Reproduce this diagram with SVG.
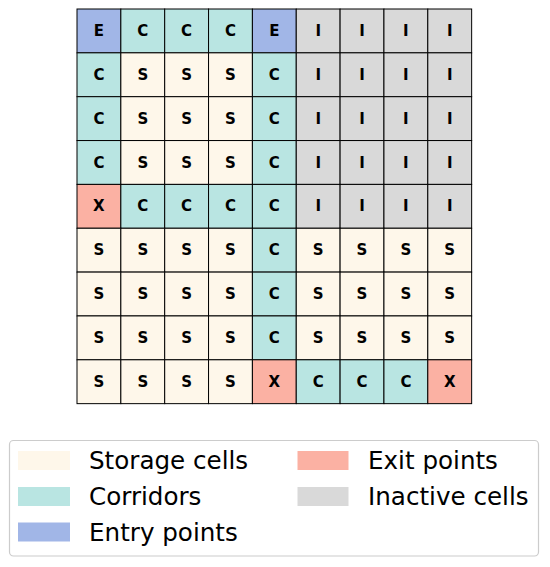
<svg xmlns="http://www.w3.org/2000/svg" width="550" height="567" viewBox="0 0 550 567">
<style>
.c rect{stroke:#000;stroke-width:1}
.S{fill:#FEF7EA}.C{fill:#B9E5E2}.E{fill:#A1B6E7}.X{fill:#FBB1A3}.I{fill:#D9D9D9}
.t{font-family:"DejaVu Sans",sans-serif;font-weight:bold;font-size:15px;text-anchor:middle;dominant-baseline:central;fill:#000}
.lg{font-family:"DejaVu Sans",sans-serif;font-size:24.6px;fill:#000}
</style>
<rect width="550" height="567" fill="#fff"/>
<g id="grid" class="c">
<g id="r0">
<rect class="E" x="77" y="9" width="43.85" height="43.85"/><text class="t" x="98.9" y="30.9">E</text>
<rect class="C" x="120.85" y="9" width="43.85" height="43.85"/><text class="t" x="142.8" y="30.9">C</text>
<rect class="C" x="164.7" y="9" width="43.85" height="43.85"/><text class="t" x="186.6" y="30.9">C</text>
<rect class="C" x="208.55" y="9" width="43.85" height="43.85"/><text class="t" x="230.5" y="30.9">C</text>
<rect class="E" x="252.4" y="9" width="43.85" height="43.85"/><text class="t" x="274.3" y="30.9">E</text>
<rect class="I" x="296.25" y="9" width="43.85" height="43.85"/><text class="t" x="318.2" y="30.9">I</text>
<rect class="I" x="340.1" y="9" width="43.85" height="43.85"/><text class="t" x="362" y="30.9">I</text>
<rect class="I" x="383.95" y="9" width="43.85" height="43.85"/><text class="t" x="405.9" y="30.9">I</text>
<rect class="I" x="427.8" y="9" width="43.85" height="43.85"/><text class="t" x="449.7" y="30.9">I</text>
</g>
<g id="r1">
<rect class="C" x="77" y="52.85" width="43.85" height="43.85"/><text class="t" x="98.9" y="74.8">C</text>
<rect class="S" x="120.85" y="52.85" width="43.85" height="43.85"/><text class="t" x="142.8" y="74.8">S</text>
<rect class="S" x="164.7" y="52.85" width="43.85" height="43.85"/><text class="t" x="186.6" y="74.8">S</text>
<rect class="S" x="208.55" y="52.85" width="43.85" height="43.85"/><text class="t" x="230.5" y="74.8">S</text>
<rect class="C" x="252.4" y="52.85" width="43.85" height="43.85"/><text class="t" x="274.3" y="74.8">C</text>
<rect class="I" x="296.25" y="52.85" width="43.85" height="43.85"/><text class="t" x="318.2" y="74.8">I</text>
<rect class="I" x="340.1" y="52.85" width="43.85" height="43.85"/><text class="t" x="362" y="74.8">I</text>
<rect class="I" x="383.95" y="52.85" width="43.85" height="43.85"/><text class="t" x="405.9" y="74.8">I</text>
<rect class="I" x="427.8" y="52.85" width="43.85" height="43.85"/><text class="t" x="449.7" y="74.8">I</text>
</g>
<g id="r2">
<rect class="C" x="77" y="96.7" width="43.85" height="43.85"/><text class="t" x="98.9" y="118.6">C</text>
<rect class="S" x="120.85" y="96.7" width="43.85" height="43.85"/><text class="t" x="142.8" y="118.6">S</text>
<rect class="S" x="164.7" y="96.7" width="43.85" height="43.85"/><text class="t" x="186.6" y="118.6">S</text>
<rect class="S" x="208.55" y="96.7" width="43.85" height="43.85"/><text class="t" x="230.5" y="118.6">S</text>
<rect class="C" x="252.4" y="96.7" width="43.85" height="43.85"/><text class="t" x="274.3" y="118.6">C</text>
<rect class="I" x="296.25" y="96.7" width="43.85" height="43.85"/><text class="t" x="318.2" y="118.6">I</text>
<rect class="I" x="340.1" y="96.7" width="43.85" height="43.85"/><text class="t" x="362" y="118.6">I</text>
<rect class="I" x="383.95" y="96.7" width="43.85" height="43.85"/><text class="t" x="405.9" y="118.6">I</text>
<rect class="I" x="427.8" y="96.7" width="43.85" height="43.85"/><text class="t" x="449.7" y="118.6">I</text>
</g>
<g id="r3">
<rect class="C" x="77" y="140.55" width="43.85" height="43.85"/><text class="t" x="98.9" y="162.5">C</text>
<rect class="S" x="120.85" y="140.55" width="43.85" height="43.85"/><text class="t" x="142.8" y="162.5">S</text>
<rect class="S" x="164.7" y="140.55" width="43.85" height="43.85"/><text class="t" x="186.6" y="162.5">S</text>
<rect class="S" x="208.55" y="140.55" width="43.85" height="43.85"/><text class="t" x="230.5" y="162.5">S</text>
<rect class="C" x="252.4" y="140.55" width="43.85" height="43.85"/><text class="t" x="274.3" y="162.5">C</text>
<rect class="I" x="296.25" y="140.55" width="43.85" height="43.85"/><text class="t" x="318.2" y="162.5">I</text>
<rect class="I" x="340.1" y="140.55" width="43.85" height="43.85"/><text class="t" x="362" y="162.5">I</text>
<rect class="I" x="383.95" y="140.55" width="43.85" height="43.85"/><text class="t" x="405.9" y="162.5">I</text>
<rect class="I" x="427.8" y="140.55" width="43.85" height="43.85"/><text class="t" x="449.7" y="162.5">I</text>
</g>
<g id="r4">
<rect class="X" x="77" y="184.4" width="43.85" height="43.85"/><text class="t" x="98.9" y="206.3">X</text>
<rect class="C" x="120.85" y="184.4" width="43.85" height="43.85"/><text class="t" x="142.8" y="206.3">C</text>
<rect class="C" x="164.7" y="184.4" width="43.85" height="43.85"/><text class="t" x="186.6" y="206.3">C</text>
<rect class="C" x="208.55" y="184.4" width="43.85" height="43.85"/><text class="t" x="230.5" y="206.3">C</text>
<rect class="C" x="252.4" y="184.4" width="43.85" height="43.85"/><text class="t" x="274.3" y="206.3">C</text>
<rect class="I" x="296.25" y="184.4" width="43.85" height="43.85"/><text class="t" x="318.2" y="206.3">I</text>
<rect class="I" x="340.1" y="184.4" width="43.85" height="43.85"/><text class="t" x="362" y="206.3">I</text>
<rect class="I" x="383.95" y="184.4" width="43.85" height="43.85"/><text class="t" x="405.9" y="206.3">I</text>
<rect class="I" x="427.8" y="184.4" width="43.85" height="43.85"/><text class="t" x="449.7" y="206.3">I</text>
</g>
<g id="r5">
<rect class="S" x="77" y="228.25" width="43.85" height="43.85"/><text class="t" x="98.9" y="250.2">S</text>
<rect class="S" x="120.85" y="228.25" width="43.85" height="43.85"/><text class="t" x="142.8" y="250.2">S</text>
<rect class="S" x="164.7" y="228.25" width="43.85" height="43.85"/><text class="t" x="186.6" y="250.2">S</text>
<rect class="S" x="208.55" y="228.25" width="43.85" height="43.85"/><text class="t" x="230.5" y="250.2">S</text>
<rect class="C" x="252.4" y="228.25" width="43.85" height="43.85"/><text class="t" x="274.3" y="250.2">C</text>
<rect class="S" x="296.25" y="228.25" width="43.85" height="43.85"/><text class="t" x="318.2" y="250.2">S</text>
<rect class="S" x="340.1" y="228.25" width="43.85" height="43.85"/><text class="t" x="362" y="250.2">S</text>
<rect class="S" x="383.95" y="228.25" width="43.85" height="43.85"/><text class="t" x="405.9" y="250.2">S</text>
<rect class="S" x="427.8" y="228.25" width="43.85" height="43.85"/><text class="t" x="449.7" y="250.2">S</text>
</g>
<g id="r6">
<rect class="S" x="77" y="272.1" width="43.85" height="43.85"/><text class="t" x="98.9" y="294">S</text>
<rect class="S" x="120.85" y="272.1" width="43.85" height="43.85"/><text class="t" x="142.8" y="294">S</text>
<rect class="S" x="164.7" y="272.1" width="43.85" height="43.85"/><text class="t" x="186.6" y="294">S</text>
<rect class="S" x="208.55" y="272.1" width="43.85" height="43.85"/><text class="t" x="230.5" y="294">S</text>
<rect class="C" x="252.4" y="272.1" width="43.85" height="43.85"/><text class="t" x="274.3" y="294">C</text>
<rect class="S" x="296.25" y="272.1" width="43.85" height="43.85"/><text class="t" x="318.2" y="294">S</text>
<rect class="S" x="340.1" y="272.1" width="43.85" height="43.85"/><text class="t" x="362" y="294">S</text>
<rect class="S" x="383.95" y="272.1" width="43.85" height="43.85"/><text class="t" x="405.9" y="294">S</text>
<rect class="S" x="427.8" y="272.1" width="43.85" height="43.85"/><text class="t" x="449.7" y="294">S</text>
</g>
<g id="r7">
<rect class="S" x="77" y="315.95" width="43.85" height="43.85"/><text class="t" x="98.9" y="337.9">S</text>
<rect class="S" x="120.85" y="315.95" width="43.85" height="43.85"/><text class="t" x="142.8" y="337.9">S</text>
<rect class="S" x="164.7" y="315.95" width="43.85" height="43.85"/><text class="t" x="186.6" y="337.9">S</text>
<rect class="S" x="208.55" y="315.95" width="43.85" height="43.85"/><text class="t" x="230.5" y="337.9">S</text>
<rect class="C" x="252.4" y="315.95" width="43.85" height="43.85"/><text class="t" x="274.3" y="337.9">C</text>
<rect class="S" x="296.25" y="315.95" width="43.85" height="43.85"/><text class="t" x="318.2" y="337.9">S</text>
<rect class="S" x="340.1" y="315.95" width="43.85" height="43.85"/><text class="t" x="362" y="337.9">S</text>
<rect class="S" x="383.95" y="315.95" width="43.85" height="43.85"/><text class="t" x="405.9" y="337.9">S</text>
<rect class="S" x="427.8" y="315.95" width="43.85" height="43.85"/><text class="t" x="449.7" y="337.9">S</text>
</g>
<g id="r8">
<rect class="S" x="77" y="359.8" width="43.85" height="43.85"/><text class="t" x="98.9" y="381.7">S</text>
<rect class="S" x="120.85" y="359.8" width="43.85" height="43.85"/><text class="t" x="142.8" y="381.7">S</text>
<rect class="S" x="164.7" y="359.8" width="43.85" height="43.85"/><text class="t" x="186.6" y="381.7">S</text>
<rect class="S" x="208.55" y="359.8" width="43.85" height="43.85"/><text class="t" x="230.5" y="381.7">S</text>
<rect class="X" x="252.4" y="359.8" width="43.85" height="43.85"/><text class="t" x="274.3" y="381.7">X</text>
<rect class="C" x="296.25" y="359.8" width="43.85" height="43.85"/><text class="t" x="318.2" y="381.7">C</text>
<rect class="C" x="340.1" y="359.8" width="43.85" height="43.85"/><text class="t" x="362" y="381.7">C</text>
<rect class="C" x="383.95" y="359.8" width="43.85" height="43.85"/><text class="t" x="405.9" y="381.7">C</text>
<rect class="X" x="427.8" y="359.8" width="43.85" height="43.85"/><text class="t" x="449.7" y="381.7">X</text>
</g>
</g>
<g id="legend">
<rect x="9.5" y="440.5" width="529" height="115.5" rx="4" fill="#fff" stroke="#cccccc" stroke-width="1.2"/>
<rect class="S" x="18" y="451" width="52" height="19"/><text class="lg" x="89" y="469">Storage cells</text>
<rect class="C" x="18" y="487" width="52" height="19"/><text class="lg" x="89" y="505">Corridors</text>
<rect class="E" x="18" y="522.5" width="52" height="19"/><text class="lg" x="89" y="541">Entry points</text>
<rect class="X" x="297.5" y="451" width="51" height="19"/><text class="lg" x="368" y="469">Exit points</text>
<rect class="I" x="297.5" y="487" width="51" height="19"/><text class="lg" x="368" y="505">Inactive cells</text>
</g>
</svg>
